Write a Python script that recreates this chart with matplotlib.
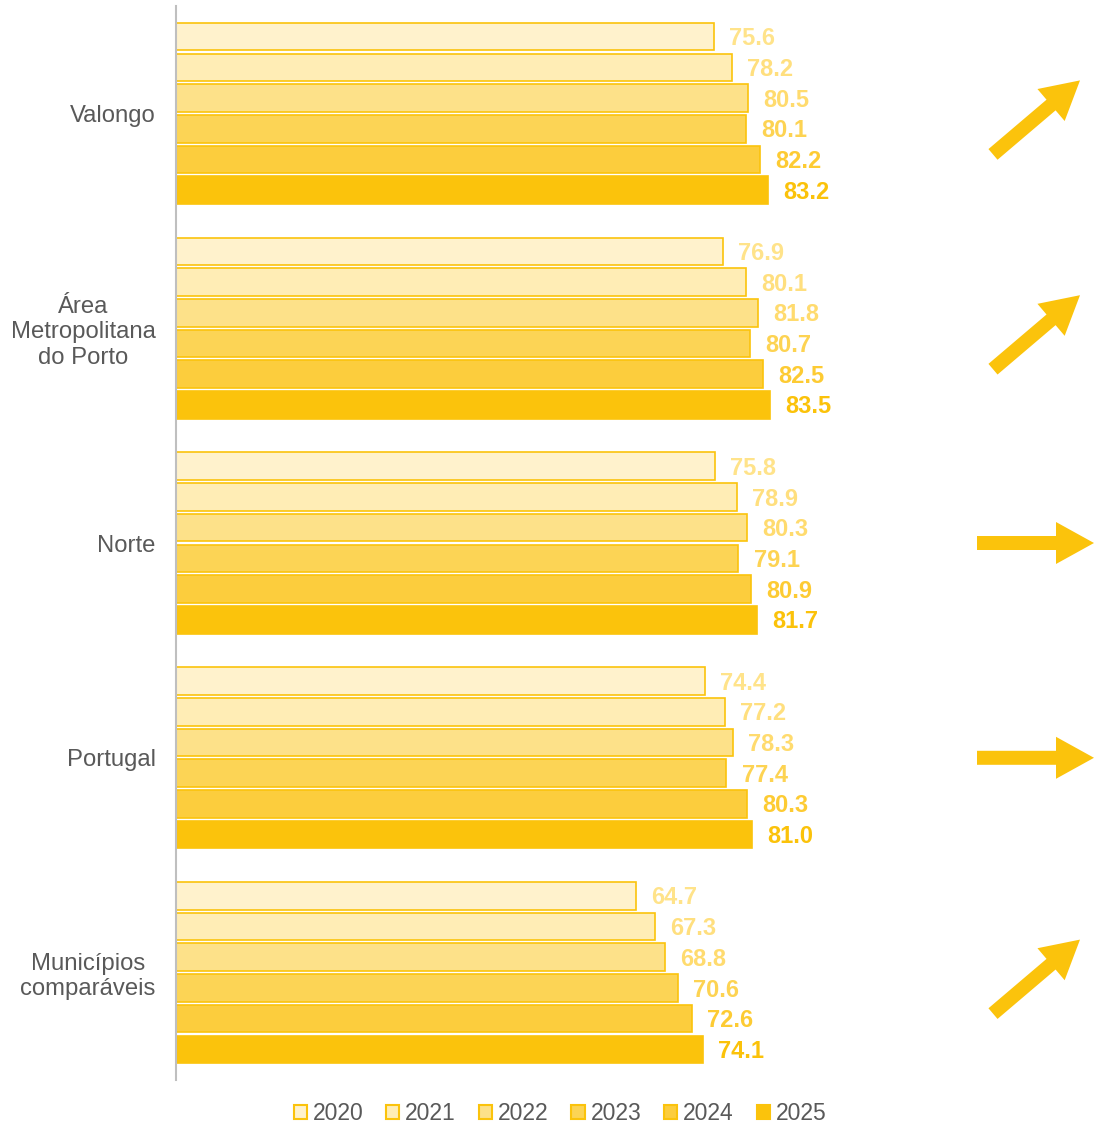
import matplotlib
matplotlib.use("Agg")
import matplotlib.pyplot as plt
from matplotlib.patches import Patch, FancyArrow
from matplotlib.transforms import IdentityTransform
import numpy as np

categories = ["Valongo", "Área\nMetropolitana\ndo Porto", "Norte", "Portugal", "Municípios\ncomparáveis"]
years = ["2020", "2021", "2022", "2023", "2024", "2025"]
values = {
    "2020": [75.6, 76.9, 75.8, 74.4, 64.7],
    "2021": [78.2, 80.1, 78.9, 77.2, 67.3],
    "2022": [80.5, 81.8, 80.3, 78.3, 68.8],
    "2023": [80.1, 80.7, 79.1, 77.4, 70.6],
    "2024": [82.2, 82.5, 80.9, 80.3, 72.6],
    "2025": [83.2, 83.5, 81.7, 81.0, 74.1],
}
trends = ["up", "up", "flat", "flat", "up"]

fills = ["#FFF2CC", "#FFEDB5", "#FDE189", "#FCD455", "#FCCD3D", "#FBC30C"]
label_colors = ["#FFE38A", "#FFDF7E", "#FFDB6E", "#FDD352", "#FDCB33", "#FBC20A"]
edge = "#FBC30C"
arrow_color = "#FBC30C"
text_gray = "#595959"

plt.rcParams["font.family"] = ["Liberation Sans", "DejaVu Sans"]

W, H = 1120, 1126
fig = plt.figure(figsize=(W / 100, H / 100), dpi=100)
ax = fig.add_axes([176 / W, 1 - 1080 / H, (1110 - 176) / W, (1080 - 6) / H])

n = len(categories)
slot = 1 / 7
bh = 0.9 * slot
ycent = np.arange(n)
for i, yr in enumerate(years):
    ypos = ycent - 2.5 * slot + i * slot
    ax.barh(ypos, values[yr], height=bh, color=fills[i], edgecolor=edge, linewidth=1.2)
    for y, v in zip(ypos, values[yr]):
        ax.annotate(f"{v:.1f}", xy=(v, y), xytext=(11, -1.5), textcoords="offset points",
                    va="center", ha="left", fontsize=17, fontweight="bold",
                    color=label_colors[i])

ax.set_xlim(0, 934 / 7.11)
ax.set_ylim(n - 0.5, -0.5)
ax.set_yticks(ycent)
ax.set_yticklabels(categories, fontsize=17.2, color=text_gray)
for lab in ax.get_yticklabels():
    lab.set_multialignment("center")
ax.tick_params(axis="y", length=0, pad=14.5)
ax.set_xticks([])
for s in ["top", "right", "bottom"]:
    ax.spines[s].set_visible(False)
ax.spines["left"].set_color("#BFBFBF")
ax.spines["left"].set_linewidth(1.5)

# trend arrows (pixel coordinates)
for c, t in zip(ycent, trends):
    _, yc = ax.transData.transform((0, c))
    if t == "up":
        x0, y0 = 993, yc - 41
        dx, dy = 87, 74
    elif t == "down":
        x0, y0 = 993, yc + 41
        dx, dy = 87, -74
    else:
        x0, y0 = 977, yc
        dx, dy = 117, 0
    arr = FancyArrow(x0, y0, dx, dy, width=14, head_width=42, head_length=38,
                     length_includes_head=True, color=arrow_color, lw=0,
                     transform=IdentityTransform())
    fig.patches.append(arr)

handles = [Patch(facecolor=fills[i], edgecolor=edge, linewidth=1.5, label=yr) for i, yr in enumerate(years)]
leg = fig.legend(handles=handles, loc="lower center", bbox_to_anchor=(0.5, -0.0075), ncol=6,
                 frameon=False, fontsize=16.5, handlelength=0.57, handleheight=0.57,
                 handletextpad=0.26, columnspacing=1.0, borderaxespad=0.0)
for txt in leg.get_texts():
    txt.set_color(text_gray)

fig.savefig("out.png", dpi=100)
